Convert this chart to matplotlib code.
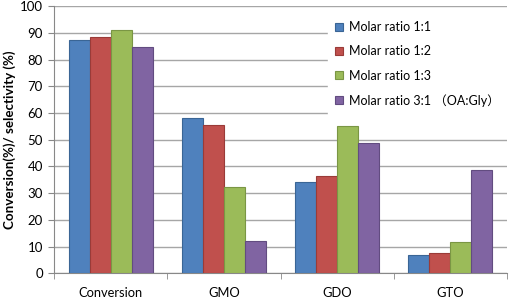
import numpy as np
import matplotlib.pyplot as plt

# data
categories = ["Conversion", "GMO", "GDO", "GTO"]
series_names = ["Molar ratio 1:1", "Molar ratio 1:2", "Molar ratio 1:3",
                "Molar ratio 3:1 \uff08OA:Gly\uff09"]
ratio_1_1 = [87.3, 58.3, 34.3, 7.0]
ratio_1_2 = [88.6, 55.5, 36.3, 7.6]
ratio_1_3 = [91.2, 32.4, 55.3, 11.8]
ratio_3_1 = [84.9, 12.0, 48.9, 38.6]

colors = ["#4F81BD", "#C0504D", "#9BBB59", "#8064A2"]
edges = ["#3A6595", "#9A3B38", "#7A9644", "#624C80"]

plt.rcParams['font.family'] = ['Lato', 'Noto Sans CJK SC', 'DejaVu Sans']

fig = plt.figure(figsize=(5.10, 2.98), dpi=100)
ax = fig.add_axes([0.106, 0.083, 0.888, 0.896])

x = np.arange(len(categories))
w = 0.185
all_vals = [ratio_1_1, ratio_1_2, ratio_1_3, ratio_3_1]
for i, vals in enumerate(all_vals):
    ax.bar(x + (i - 1.5) * w, vals, w, color=colors[i], edgecolor=edges[i],
           linewidth=0.8, label=series_names[i], zorder=3)

ax.set_xlim(-0.5, 3.5)
ax.set_ylim(0, 100)
ax.set_yticks(range(0, 101, 10))
ax.set_xticks(x)
ax.set_xticklabels(categories, fontsize=9.3)
ax.set_xticks(np.arange(-0.5, 4, 1), minor=True)
ax.tick_params(axis='x', which='major', length=0, pad=10)
ax.tick_params(axis='x', which='minor', length=4, color='#888888')
ax.tick_params(axis='y', length=4, color='#888888', labelsize=9.5, pad=4)
ax.yaxis.grid(True, color='#a6a6a6', linewidth=1)
ax.set_axisbelow(True)

for s in ['top', 'right']:
    ax.spines[s].set_visible(False)
for s in ['left', 'bottom']:
    ax.spines[s].set_color('#888888')

ax.set_ylabel("Conversion(%)/ selectivity (%)", fontsize=9.6, fontweight='bold', labelpad=3)

leg = ax.legend(loc='upper left', bbox_to_anchor=(0.63, 0.975), bbox_transform=fig.transFigure,
                fontsize=9.0, frameon=True, fancybox=False, handlelength=0.6, handleheight=0.6,
                handletextpad=0.5, labelspacing=0.98, borderpad=0.6)
leg.get_frame().set_facecolor('white')
leg.get_frame().set_edgecolor('white')
leg.get_frame().set_alpha(1)

fig.savefig("out.png", dpi=100)
